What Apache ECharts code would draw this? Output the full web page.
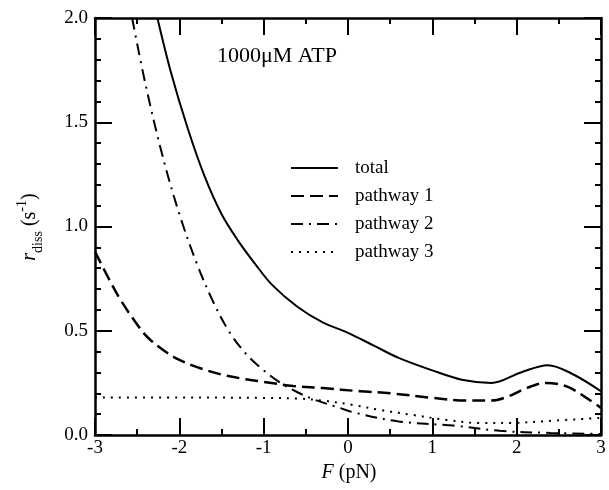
<!DOCTYPE html>
<html>
<head>
<meta charset="utf-8">
<script src="https://cdn.jsdelivr.net/npm/echarts@6/dist/echarts.min.js"></script>
<style>
html,body{margin:0;padding:0;background:#fff;}
#chart{width:609px;height:490px;}
</style>
</head>
<body>
<div id="chart"></div>
<script>
// Data
var xTicks = [-3, -2, -1, 0, 1, 2, 3];
var yTicks = ['0.0', '0.5', '1.0', '1.5', '2.0'];
var seriesNames = ['total', 'pathway 1', 'pathway 2', 'pathway 3'];

var totalF = [-2.26, -2.1, -1.9, -1.7, -1.5, -1.3, -1.1, -0.9, -0.6, -0.3, 0.0, 0.3, 0.6, 1.0, 1.35, 1.7, 2.05, 2.37, 2.65, 3.0];
var totalR = [2.0, 1.74, 1.47, 1.24, 1.06, 0.93, 0.82, 0.72, 0.615, 0.54, 0.49, 0.43, 0.37, 0.31, 0.265, 0.25, 0.30, 0.335, 0.295, 0.21];

var p1F = [-3, -2.85, -2.7, -2.5, -2.38, -2.2, -2.0, -1.75, -1.5, -1.25, -1.0, -0.65, -0.3, 0.14, 0.5, 1.0, 1.4, 1.7, 1.9, 2.1, 2.35, 2.6, 2.8, 3.0];
var p1R = [0.88, 0.76, 0.65, 0.53, 0.47, 0.41, 0.36, 0.32, 0.29, 0.27, 0.255, 0.235, 0.225, 0.21, 0.20, 0.178, 0.165, 0.165, 0.185, 0.222, 0.25, 0.232, 0.185, 0.13];

var p2F = [-2.56, -2.4, -2.2, -2.0, -1.8, -1.6, -1.4, -1.2, -1.0, -0.8, -0.6, -0.4, -0.1, 0.1, 0.6, 1.25, 1.8, 2.4, 3.0];
var p2R = [2.0, 1.68, 1.34, 1.06, 0.83, 0.64, 0.49, 0.385, 0.31, 0.25, 0.205, 0.17, 0.13, 0.105, 0.065, 0.045, 0.02, 0.01, 0.005];

var p3F = [-3, -2, -1, -0.6, -0.3, 0.06, 0.38, 0.77, 1.17, 1.57, 1.96, 2.36, 3.0];
var p3R = [0.18, 0.18, 0.178, 0.175, 0.165, 0.144, 0.12, 0.096, 0.072, 0.057, 0.058, 0.067, 0.082];

function zip(a, b) { return a.map(function (v, i) { return [v, b[i]]; }); }

var FONT = 'Liberation Serif';
var chart = echarts.init(document.getElementById('chart'));

function xAxisDef(pos, showLabel) {
  return {
    type: 'value', position: pos, min: -3, max: 3, interval: 1,
    axisLine: { show: true, onZero: false, lineStyle: { color: '#000', width: 2.5 } },
    axisTick: { show: true, inside: true, length: 17, lineStyle: { color: '#000', width: 2 } },
    minorTick: { show: true, splitNumber: 2, length: 6, lineStyle: { color: '#000', width: 2 } },
    splitLine: { show: false }, minorSplitLine: { show: false },
    axisLabel: { show: showLabel, color: '#000', fontFamily: FONT, fontSize: 19, margin: 4,
      formatter: function (v) { var i = xTicks.indexOf(v); return i >= 0 ? String(xTicks[i]) : ''; } }
  };
}
function yAxisDef(pos, showLabel) {
  return {
    type: 'value', position: pos, min: 0, max: 2, interval: 0.5,
    axisLine: { show: true, onZero: false, lineStyle: { color: '#000', width: 2.5 } },
    axisTick: { show: true, inside: true, length: 17, lineStyle: { color: '#000', width: 2 } },
    minorTick: { show: true, splitNumber: 5, length: 6, lineStyle: { color: '#000', width: 2 } },
    splitLine: { show: false }, minorSplitLine: { show: false },
    axisLabel: { show: showLabel, color: '#000', fontFamily: FONT, fontSize: 19, margin: 7,
      formatter: function (v) { return yTicks[Math.round(v / 0.5)]; } }
  };
}

var option = {
  animation: false,
  backgroundColor: '#fff',
  color: ['#000', '#000', '#000', '#000'],
  grid: { left: 95, right: 8, top: 18, bottom: 55, containLabel: false },
  xAxis: [xAxisDef('bottom', true), xAxisDef('top', false)],
  yAxis: [yAxisDef('left', true), yAxisDef('right', false)],
  legend: {
    orient: 'vertical', left: 290, top: 158, padding: 0,
    itemWidth: 47, itemHeight: 20, itemGap: 8,
    itemStyle: { opacity: 0 },
    textStyle: { color: '#000', fontFamily: FONT, fontSize: 19, lineHeight: 20, padding: [0, 0, 0, 12] },
    data: seriesNames
  },
  series: [
    { name: seriesNames[0], type: 'line', data: zip(totalF, totalR), smooth: 0.35, symbol: 'none',
      itemStyle: { color: '#000' }, lineStyle: { color: '#000', width: 2, type: 'solid' } },
    { name: seriesNames[1], type: 'line', data: zip(p1F, p1R), smooth: 0.35, symbol: 'none',
      itemStyle: { color: '#000' }, lineStyle: { color: '#000', width: 2.5, type: [13, 6] } },
    { name: seriesNames[2], type: 'line', data: zip(p2F, p2R), smooth: 0.35, symbol: 'none',
      itemStyle: { color: '#000' }, lineStyle: { color: '#000', width: 2, type: [12, 6, 2, 6] } },
    { name: seriesNames[3], type: 'line', data: zip(p3F, p3R), smooth: 0.35, symbol: 'none',
      itemStyle: { color: '#000' }, lineStyle: { color: '#000', width: 2, type: [2, 6] } }
  ],
  graphic: [
    { type: 'text', left: 217, top: 45,
      style: { text: '1000\u03bcM ATP', fill: '#000', font: '22px "Liberation Serif"' } },
    { type: 'text', x: 349, y: 473,
      style: { text: '{i|F} (pN)', fill: '#000', align: 'center', verticalAlign: 'middle',
        font: '20px "Liberation Serif"',
        rich: { i: { fontStyle: 'italic', fontFamily: FONT, fontSize: 20 } } } },
    { type: 'text', x: 30, y: 227, rotation: Math.PI / 2,
      style: { text: '{i|r}{sub|diss} (s{sup|-1})', fill: '#000', align: 'center', verticalAlign: 'middle',
        font: '20px "Liberation Serif"', lineHeight: 30,
        rich: {
          i: { fontStyle: 'italic', fontFamily: FONT, fontSize: 20, lineHeight: 30, verticalAlign: 'middle' },
          sub: { fontFamily: FONT, fontSize: 14, lineHeight: 14, verticalAlign: 'bottom' },
          sup: { fontFamily: FONT, fontSize: 14, lineHeight: 14, verticalAlign: 'top' }
        } } }
  ]
};
chart.setOption(option);
</script>
</body>
</html>
